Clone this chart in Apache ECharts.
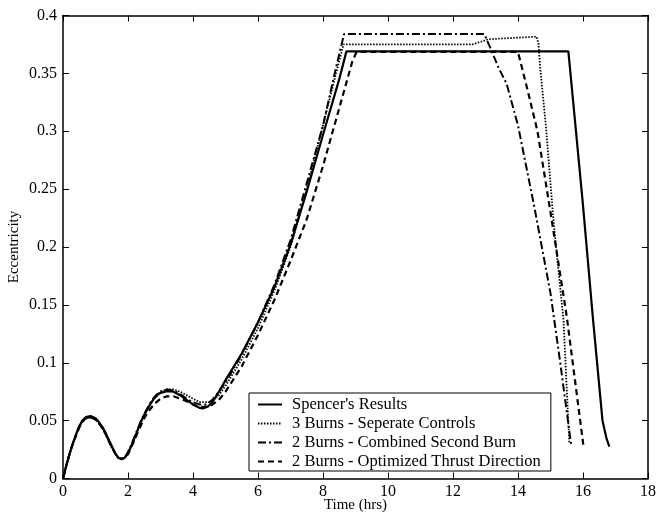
<!DOCTYPE html>
<html>
<head>
<meta charset="utf-8">
<script src="https://cdn.jsdelivr.net/npm/echarts@6/dist/echarts.min.js"></script>
<style>
html, body { margin: 0; padding: 0; background: #fff; }
#main { width: 659px; height: 517px; }
</style>
</head>
<body>
<div id="main"></div>
<script>
var seriesNames = ["Spencer's Results", '3 Burns - Seperate Controls', '2 Burns - Combined Second Burn', '2 Burns - Optimized Thrust Direction'];

var xTicks = [0, 2, 4, 6, 8, 10, 12, 14, 16, 18];
var yTicks = [0, 0.05, 0.1, 0.15, 0.2, 0.25, 0.3, 0.35, 0.4];

// Spencer's results
var spencerTime = [0, 0.1, 0.2, 0.3, 0.4, 0.5, 0.6, 0.7, 0.85, 1.0, 1.1, 1.2, 1.3, 1.4, 1.5, 1.6, 1.7, 1.8, 1.9, 2.0, 2.1, 2.2, 2.3, 2.4, 2.5, 2.6, 2.7, 2.8, 2.9, 3.0, 3.2, 3.4, 3.6, 3.8, 4.0, 4.2, 4.3, 4.45, 4.6, 4.8, 5.0, 5.5, 6.0, 6.5, 7.0, 7.5, 8.0, 8.5, 8.72, 15.55, 15.75, 16.0, 16.3, 16.6, 16.72, 16.81];
var spencerEcc  = [0, 0.011, 0.021, 0.030, 0.038, 0.045, 0.050, 0.053, 0.054, 0.052, 0.049, 0.045, 0.040, 0.034, 0.028, 0.022, 0.018, 0.0165, 0.018, 0.022, 0.028, 0.035, 0.042, 0.049, 0.055, 0.060, 0.065, 0.069, 0.072, 0.074, 0.0755, 0.075, 0.072, 0.068, 0.064, 0.061, 0.0606, 0.062, 0.066, 0.075, 0.085, 0.108, 0.135, 0.165, 0.202, 0.248, 0.297, 0.345, 0.369, 0.369, 0.31, 0.236, 0.14, 0.05, 0.035, 0.0275];

// 3 burns - separate controls
var sepTime = [0, 0.1, 0.2, 0.3, 0.4, 0.5, 0.6, 0.7, 0.85, 1.0, 1.1, 1.2, 1.3, 1.4, 1.5, 1.6, 1.7, 1.8, 1.9, 2.0, 2.1, 2.2, 2.3, 2.4, 2.5, 2.6, 2.7, 2.8, 2.9, 3.0, 3.2, 3.4, 3.6, 3.8, 4.0, 4.2, 4.5, 4.8, 5.0, 5.5, 6.0, 6.5, 7.0, 7.5, 8.0, 8.4, 8.63, 12.6, 13.09, 14.57, 14.63, 14.68, 14.78, 14.86, 15.1, 15.4, 15.58];
var sepEcc  = [0, 0.011, 0.021, 0.030, 0.038, 0.045, 0.050, 0.053, 0.0535, 0.051, 0.048, 0.044, 0.039, 0.033, 0.027, 0.022, 0.018, 0.017, 0.018, 0.022, 0.028, 0.035, 0.042, 0.049, 0.055, 0.060, 0.065, 0.069, 0.072, 0.075, 0.077, 0.077, 0.075, 0.072, 0.069, 0.066, 0.066, 0.072, 0.08, 0.103, 0.13, 0.162, 0.2, 0.25, 0.305, 0.35, 0.375, 0.375, 0.3795, 0.3817, 0.376, 0.356, 0.327, 0.304, 0.22, 0.137, 0.03];

// 2 burns - combined second burn
var combTime = [0, 0.1, 0.2, 0.3, 0.4, 0.5, 0.6, 0.7, 0.85, 1.0, 1.1, 1.2, 1.3, 1.4, 1.5, 1.6, 1.7, 1.8, 1.9, 2.0, 2.1, 2.2, 2.3, 2.4, 2.5, 2.6, 2.7, 2.8, 2.9, 3.0, 3.2, 3.4, 3.6, 3.8, 4.0, 4.2, 4.4, 4.6, 5.0, 5.5, 6.0, 6.5, 7.0, 7.5, 8.0, 8.4, 8.65, 12.96, 13.15, 13.4, 13.65, 14.0, 14.5, 15.0, 15.3, 15.64];
var combEcc  = [0, 0.011, 0.021, 0.030, 0.038, 0.045, 0.050, 0.052, 0.053, 0.051, 0.048, 0.044, 0.039, 0.033, 0.027, 0.022, 0.018, 0.017, 0.018, 0.023, 0.029, 0.036, 0.043, 0.050, 0.056, 0.061, 0.066, 0.070, 0.073, 0.075, 0.077, 0.076, 0.073, 0.069, 0.066, 0.064, 0.064, 0.068, 0.083, 0.107, 0.135, 0.167, 0.206, 0.255, 0.305, 0.355, 0.384, 0.384, 0.372, 0.355, 0.341, 0.305, 0.235, 0.16, 0.1, 0.028];

// 2 burns - optimized thrust direction
var optTime = [0, 0.1, 0.2, 0.3, 0.4, 0.5, 0.6, 0.7, 0.85, 1.0, 1.1, 1.2, 1.3, 1.4, 1.5, 1.6, 1.7, 1.8, 1.9, 2.0, 2.1, 2.2, 2.3, 2.4, 2.5, 2.6, 2.8, 3.0, 3.2, 3.4, 3.7, 4.0, 4.2, 4.5, 4.8, 5.0, 5.5, 6.0, 6.5, 7.0, 7.5, 8.0, 8.5, 8.9, 9.03, 14.0, 14.3, 14.6, 15.0, 15.5, 16.01];
var optEcc  = [0, 0.011, 0.021, 0.030, 0.037, 0.044, 0.049, 0.052, 0.053, 0.051, 0.048, 0.044, 0.039, 0.033, 0.027, 0.022, 0.018, 0.017, 0.018, 0.021, 0.027, 0.033, 0.040, 0.046, 0.052, 0.057, 0.064, 0.069, 0.071, 0.071, 0.068, 0.064, 0.062, 0.062, 0.068, 0.075, 0.097, 0.124, 0.154, 0.188, 0.224, 0.27, 0.32, 0.36, 0.3685, 0.3685, 0.335, 0.30, 0.23, 0.14, 0.029];

function pairs(xs, ys) {
    return xs.map(function (x, i) { return [x, ys[i]]; });
}

var serif = 'Liberation Serif, Times New Roman, serif';

var lineSeries = function (name, data, type, width) {
    return {
        name: name,
        type: 'line',
        data: data,
        showSymbol: false,
        symbol: 'none',
        silent: true,
        itemStyle: { color: '#000' },
        lineStyle: { color: '#000', width: width, type: type }
    };
};

var tickStyle = { inside: true, length: 6, lineStyle: { color: '#000', width: 1 } };
var axisLineStyle = { onZero: false, lineStyle: { color: '#000', width: 1.5 } };

var option = {
    backgroundColor: '#fff',
    animation: false,
    grid: { left: 63, right: 11, top: 15.5, bottom: 38.5, containLabel: false, outerBoundsMode: 'none' },
    legend: {
        orient: 'vertical',
        left: 249,
        top: 393,
        data: seriesNames,
        itemWidth: 24,
        itemHeight: 14,
        itemGap: 2,
        padding: [3, 10, 1, 8],
        borderColor: '#000',
        borderWidth: 1,
        borderRadius: 0,
        backgroundColor: '#fff',
        selectedMode: false,
        itemStyle: { opacity: 0 },
        textStyle: { color: '#000', fontSize: 16.5, lineHeight: 16, fontFamily: serif, padding: [0, 0, 0, 5] }
    },
    xAxis: [{
        type: 'value',
        min: 0, max: 18, interval: 2,
        name: 'Time (hrs)',
        nameLocation: 'middle',
        nameGap: 19,
        nameMoveOverlap: false,
        nameTextStyle: { color: '#000', fontSize: 15, fontFamily: serif },
        splitLine: { show: false },
        axisLine: axisLineStyle,
        axisTick: tickStyle,
        axisLabel: { color: '#000', fontSize: 16, fontFamily: serif, margin: 5,
            formatter: function (v) { return xTicks.indexOf(v) >= 0 ? String(v) : ''; } }
    }, {
        type: 'value',
        position: 'top',
        min: 0, max: 18, interval: 2,
        splitLine: { show: false },
        axisLine: axisLineStyle,
        axisTick: tickStyle,
        axisLabel: { show: false }
    }],
    yAxis: [{
        type: 'value',
        min: 0, max: 0.4, interval: 0.05,
        name: 'Eccentricity',
        nameLocation: 'middle',
        nameGap: 41,
        nameMoveOverlap: false,
        nameTextStyle: { color: '#000', fontSize: 15, fontFamily: serif },
        splitLine: { show: false },
        axisLine: axisLineStyle,
        axisTick: tickStyle,
        axisLabel: { color: '#000', fontSize: 16, fontFamily: serif, margin: 6,
            formatter: function (v) {
                var t = yTicks.find(function (k) { return Math.abs(k - v) < 1e-9; });
                return t === undefined ? '' : String(t);
            } }
    }, {
        type: 'value',
        position: 'right',
        min: 0, max: 0.4, interval: 0.05,
        splitLine: { show: false },
        axisLine: axisLineStyle,
        axisTick: tickStyle,
        axisLabel: { show: false }
    }],
    series: [
        lineSeries(seriesNames[0], pairs(spencerTime, spencerEcc), 'solid', 2.2),
        lineSeries(seriesNames[1], pairs(sepTime, sepEcc), [1.5, 1.5], 1.8),
        lineSeries(seriesNames[2], pairs(combTime, combEcc), [8, 3, 2, 3], 2),
        lineSeries(seriesNames[3], pairs(optTime, optEcc), [6, 4], 2.2)
    ]
};

var myChart = echarts.init(document.getElementById('main'));
myChart.setOption(option);
</script>
</body>
</html>
